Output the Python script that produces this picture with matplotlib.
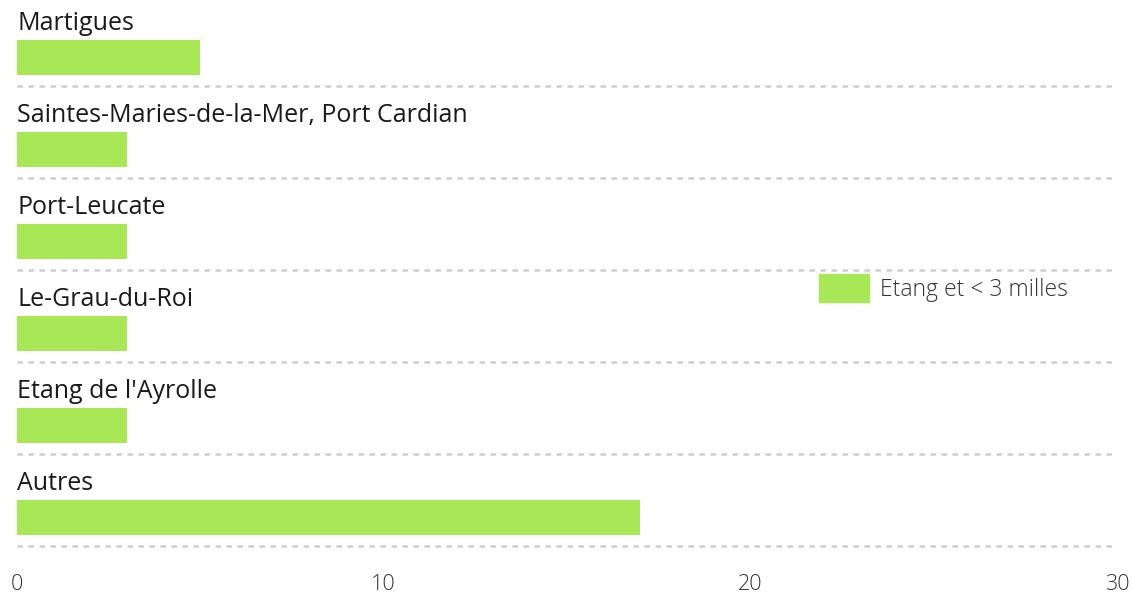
import matplotlib.pyplot as plt
from matplotlib.patches import Patch

labels = ['Martigues', 'Saintes-Maries-de-la-Mer, Port Cardian', 'Port-Leucate',
          'Le-Grau-du-Roi', "Etang de l'Ayrolle", 'Autres']
values = [5, 3, 3, 3, 3, 17]
ticks = [0, 10, 20, 30]
series_name = 'Etang et < 3 milles'
green = '#a8e755'

plt.rcParams['font.family'] = ['Open Sans', 'DejaVu Sans']

fig = plt.figure(figsize=(11.32, 5.95), dpi=100)
ax = fig.add_axes([17 / 1132, 49 / 595, 1100 / 1132, 552 / 595])

for i, (lab, v) in enumerate(zip(labels, values)):
    ax.barh(i + 0.69, v, height=0.39, color=green, left=0)
    ax.text(0, i + 0.32, lab, fontsize=18, color='#1a1a1a', va='center', ha='left')
    ax.axhline(i + 1, color='#cfcfcf', lw=1.8, linestyle=(0, (2.2, 2.2)), clip_on=False)

ax.set_xlim(0, 30)
ax.set_ylim(6, 0)
ax.set_xticks(ticks)
ax.set_xticklabels([str(t) for t in ticks], fontsize=15.5, fontweight='light', color='#333333')
ax.tick_params(axis='x', length=0, pad=20)
ax.set_yticks([])
for s in ax.spines.values():
    s.set_visible(False)

leg = fig.legend(handles=[Patch(color=green, label=series_name)],
                 loc='center left', bbox_to_anchor=(819 / 1132, 1 - 288 / 595),
                 frameon=False, fontsize=16.5, handlelength=2.2, handleheight=1.55,
                 handletextpad=0.45, borderpad=0, borderaxespad=0)
for t in leg.get_texts():
    t.set_fontweight('light')
    t.set_color('#333333')

fig.savefig('out.png', dpi=100)
